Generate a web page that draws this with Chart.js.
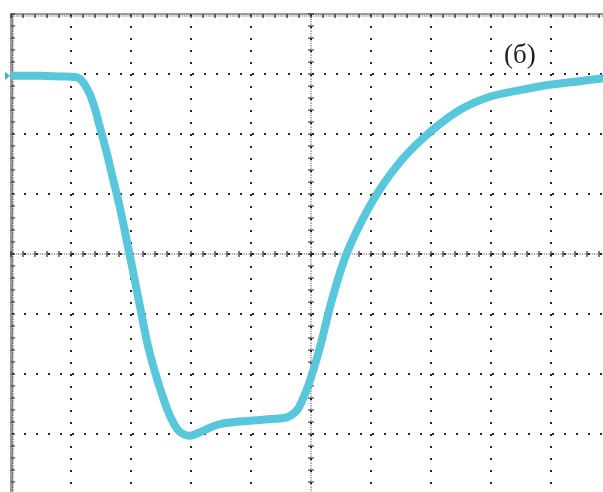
<!DOCTYPE html>
<html>
<head>
<meta charset="utf-8">
<script src="https://cdn.jsdelivr.net/npm/chart.js@4"></script>
<style>
  html, body { margin: 0; padding: 0; background: #fff; overflow: hidden; }
  #wrap { position: absolute; left: 0; top: 0; width: 625px; height: 500px; }
</style>
</head>
<body>
<div id="wrap"><canvas id="scope" width="625" height="500"></canvas></div>
<script>
// trace, in screen divisions (10 across, 8 high, 0 in the middle)
const traceX = [0, 0.48, 0.82, 1.07, 1.15, 1.23, 1.32, 1.4, 1.48, 1.6, 1.7, 1.82, 1.95, 2.07, 2.18, 2.28, 2.4,
    2.53, 2.65, 2.77, 2.87, 2.98, 3.15, 3.43, 3.73, 3.98, 4.32, 4.57, 4.68, 4.77, 4.85, 4.98, 5.15, 5.32, 5.48,
    5.62, 5.82, 6.02, 6.23, 6.48, 6.73, 6.98, 7.23, 7.53, 7.98, 8.48, 8.98, 9.48, 9.87, 10.07];
const traceY = [2.97, 2.97, 2.96, 2.95, 2.92, 2.82, 2.65, 2.42, 2.12, 1.67, 1.25, 0.75, 0.12, -0.47, -1.03, -1.52, -1.97,
    -2.38, -2.7, -2.92, -3.0, -3.03, -2.97, -2.85, -2.8, -2.78, -2.75, -2.73, -2.68, -2.6, -2.45, -2.12, -1.55, -0.87, -0.32,
    0.07, 0.5, 0.87, 1.2, 1.53, 1.8, 2.03, 2.23, 2.43, 2.62, 2.73, 2.82, 2.88, 2.93, 2.95];
const panelLabel = '(б)';

const traceColor = '#58c7dc';
const dotColor = '#2a2a2a';

const points = traceX.map((x, i) => ({ x, y: traceY[i] }));

// minor ticks along the centre lines and the frame, plus the panel label
const scopeMarks = {
    id: 'scopeMarks',
    beforeDatasetsDraw(chart) {
        const { ctx, chartArea, scales: { x, y } } = chart;
        const cx = x.getPixelForValue(5);
        const cy = y.getPixelForValue(0);
        ctx.save();
        ctx.strokeStyle = dotColor;
        ctx.lineWidth = 1;

        // dense dotted centre lines
        ctx.setLineDash([1, 1.4]);
        ctx.beginPath();
        ctx.moveTo(cx, chartArea.top); ctx.lineTo(cx, chartArea.bottom);
        ctx.moveTo(chartArea.left, cy); ctx.lineTo(chartArea.right, cy);
        // frame edges
        ctx.moveTo(chartArea.left + 2, chartArea.top); ctx.lineTo(chartArea.left + 2, chartArea.bottom);
        ctx.moveTo(chartArea.left, chartArea.top + 2); ctx.lineTo(chartArea.right, chartArea.top + 2);
        ctx.stroke();
        ctx.setLineDash([]);

        // ticks every fifth of a division
        ctx.lineWidth = 1.2;
        ctx.beginPath();
        for (let v = 0; v <= 10.001; v += 0.2) {
            const px = x.getPixelForValue(v);
            ctx.moveTo(px, cy - 3); ctx.lineTo(px, cy + 3);
            ctx.moveTo(px, chartArea.top); ctx.lineTo(px, chartArea.top + 4);
        }
        for (let v = -4; v <= 4.001; v += 0.2) {
            const py = y.getPixelForValue(v);
            ctx.moveTo(cx - 3, py); ctx.lineTo(cx + 3, py);
            ctx.moveTo(chartArea.left, py); ctx.lineTo(chartArea.left + 4, py);
        }
        ctx.stroke();

        // channel marker
        const my = y.getPixelForValue(traceY[0]);
        ctx.fillStyle = '#3fb3c4';
        ctx.beginPath();
        ctx.moveTo(chartArea.left - 6, my - 4);
        ctx.lineTo(chartArea.left - 1, my);
        ctx.lineTo(chartArea.left - 6, my + 4);
        ctx.closePath();
        ctx.fill();

        // panel label
        ctx.fillStyle = '#1e1e1e';
        ctx.font = '27px "Liberation Serif", "DejaVu Serif", serif';
        ctx.textAlign = 'center';
        ctx.textBaseline = 'middle';
        ctx.fillText(panelLabel, x.getPixelForValue(8.48), y.getPixelForValue(3.3));
        ctx.restore();
    }
};

new Chart(document.getElementById('scope'), {
    type: 'line',
    data: {
        datasets: [{
            data: points,
            borderColor: traceColor,
            borderWidth: 8,
            pointRadius: 0,
            tension: 0.4,
            fill: false
        }]
    },
    options: {
        responsive: false,
        animation: false,
        events: [],
        layout: { padding: { left: 11, top: 14, right: 14, bottom: 6 } },
        plugins: { legend: { display: false }, tooltip: { enabled: false } },
        scales: {
            x: {
                type: 'linear',
                position: 'top',
                min: 0,
                max: 10,
                ticks: { display: false, stepSize: 1 },
                grid: { color: dotColor, lineWidth: 2, drawTicks: false },
                border: { display: true, color: '#9a9a9a', width: 2, dash: [2, 10], dashOffset: 1 }
            },
            y: {
                min: -4,
                max: 4,
                ticks: { display: false, stepSize: 1 },
                grid: { color: dotColor, lineWidth: 2, drawTicks: false },
                border: { display: true, color: '#9a9a9a', width: 3, dash: [2, 10], dashOffset: 1 }
            }
        }
    },
    plugins: [scopeMarks]
});
</script>
</body>
</html>
